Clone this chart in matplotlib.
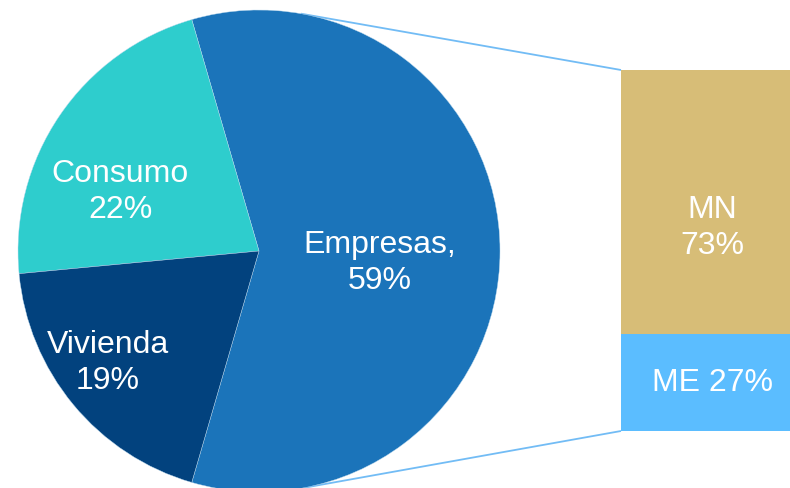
import numpy as np
import matplotlib.pyplot as plt

plt.rcParams['font.family'] = ['Liberation Sans', 'DejaVu Sans']

# pie data
pie_labels = ['Empresas,', 'Consumo', 'Vivienda']
pie_values = [59, 22, 19]
pie_colors = ['#1B74BA', '#2ECDCD', '#02427E']

# bar (breakdown of Empresas)
bar_labels = ['ME', 'MN']
bar_values = [27, 73]
bar_colors = ['#5BBDFF', '#D7BD77']

W, H = 790, 489
fig = plt.figure(figsize=(W / 100, H / 100), dpi=100)
ax = fig.add_axes([0, 0, 1, 1])

# pixel-like coordinates (y up)
cx, cy, r = 259, H - 252, 241
start = -pie_values[0] / 100 * 360 / 2
wedges, _ = ax.pie(pie_values, colors=pie_colors, startangle=start,
                   center=(cx, cy), radius=r, counterclock=True,
                   wedgeprops=dict(edgecolor='#B8D8EE', linewidth=0.3))

fs = 23
ls = 1.3
# pie labels
ax.text(380, H - 263, 'Empresas,\n59%', color='white', fontsize=fs,
        ha='center', va='center', linespacing=ls)
ax.text(120, H - 192, 'Consumo\n22%', color='white', fontsize=fs,
        ha='center', va='center', linespacing=ls)
ax.text(108, H - 363, 'Vivienda\n19%', color='white', fontsize=fs,
        ha='center', va='center', linespacing=ls)

# stacked bar
bx0, bx1 = 621, 790
by_top, by_bot = H - 71, H - 432
total_h = by_top - by_bot
bottom = by_bot
for lab, v, c in zip(bar_labels, bar_values, bar_colors):
    h = v / sum(bar_values) * total_h
    ax.bar((bx0 + bx1) / 2, h, width=bx1 - bx0, bottom=bottom, color=c,
           edgecolor='none')
    if lab == 'MN':
        ax.text(712, H - 228, f'{lab}\n{v}%', color='white',
                fontsize=fs, ha='center', va='center', linespacing=ls)
    else:
        ax.text(712, bottom + h / 2, f'{lab} {v}%', color='white',
                fontsize=fs, ha='center', va='center')
    bottom += h

# connector lines
for ang, yb in [(80, by_top), (-80, by_bot)]:
    px = cx + r * np.cos(np.radians(ang))
    py = cy + r * np.sin(np.radians(ang))
    ax.plot([px, bx0], [py, yb], color='#72BCF5', linewidth=1.3,
            solid_capstyle='butt', zorder=0)

ax.set_xlim(0, W)
ax.set_ylim(0, H)
ax.set_aspect('auto')
ax.axis('off')

fig.savefig('out.png', dpi=100, facecolor='white')
